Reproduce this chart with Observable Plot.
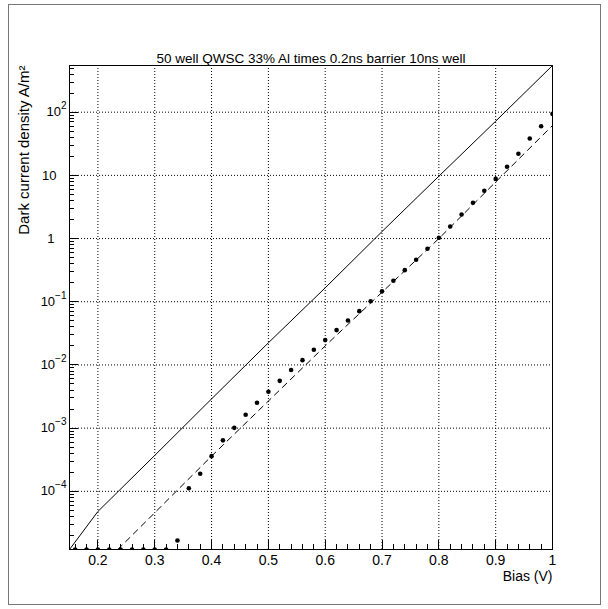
<!DOCTYPE html>
<html><head><meta charset="utf-8">
<script src="https://cdn.jsdelivr.net/npm/d3@7"></script>
<script src="https://cdn.jsdelivr.net/npm/@observablehq/plot@0.6"></script>
<style>
body{margin:0;background:#fff;}
#chart{position:absolute;left:0;top:0;}
</style></head><body>
<div id="chart"></div>
<script>
// Measured dark current (dots)
const biasDots = [0.16,0.18,0.20,0.22,0.24,0.26,0.28,0.30,0.32,0.34,0.36,0.38,0.40,0.42,0.44,0.46,0.48,0.50,0.52,0.54,0.56,0.58,0.60,0.62,0.64,0.66,0.68,0.70,0.72,0.74,0.76,0.78,0.80,0.82,0.84,0.86,0.88,0.90,0.92,0.94,0.96,0.98,1.00];
const jDots = [1.2e-5,1.2e-5,1.2e-5,1.2e-5,1.2e-5,1.2e-5,1.2e-5,1.2e-5,1.2e-5,1.67e-5,1.12e-4,1.9e-4,3.6e-4,6.4e-4,1.01e-3,1.63e-3,2.52e-3,3.77e-3,5.6e-3,8.3e-3,0.0119,0.0174,0.0247,0.0356,0.0506,0.071,0.102,0.147,0.215,0.316,0.461,0.69,1.03,1.55,2.40,3.68,5.7,8.8,13.7,22,38.4,60,94];
// Solid curve
const solidV = [0.15,0.2,0.3,0.4,0.5,0.6,0.7,0.8,0.9,1.0];
const solidJ = [1.2e-5,4.8e-5,3.7e-4,2.9e-3,0.0224,0.166,1.29,9.7,72,548];
// Dashed curve
const dashV = [0.235,0.4,0.6,0.8,1.0];
const dashJ = [1.2e-5,3.6e-4,0.02,1.0,61.6];
// Axes
const xDomain = [0.15,1.0];
const yDomain = [1.2e-5,548];
const xMajor = [0.2,0.3,0.4,0.5,0.6,0.7,0.8,0.9,1.0];
const xMinor = [0.16,0.18,0.22,0.24,0.26,0.28,0.32,0.34,0.36,0.38,0.42,0.44,0.46,0.48,0.52,0.54,0.56,0.58,0.62,0.64,0.66,0.68,0.72,0.74,0.76,0.78,0.82,0.84,0.86,0.88,0.92,0.94,0.96,0.98];
const yMajor = [1e-4,1e-3,1e-2,1e-1,1,10,100];
const yTickLabels = ["10^−4","10^−3","10^−2","10^−1","1","10","10^2"];
const titleText = "50 well QWSC 33% Al times 0.2ns barrier 10ns well";
const xTitle = "Bias (V)";
const yTitle = "Dark current density A/m²";

const yMinor = [];
for (const d of [1e-5,1e-4,1e-3,1e-2,1e-1,1,10,100]) for (let k=2;k<=9;k++){const v=k*d; if(v>=yDomain[0]&&v<=yDomain[1]) yMinor.push(v);}

const font = "'Liberation Sans', Arial, Helvetica, sans-serif";
const chart = Plot.plot({
  width: 608, height: 609,
  marginLeft: 69, marginRight: 56, marginTop: 65, marginBottom: 60,
  style: {fontFamily: font, color: "#000", background: "#fff"},
  x: {domain: xDomain},
  y: {type: "log", domain: yDomain},
  marks: [
    Plot.gridX(xMajor, {stroke: "#000", strokeOpacity: 1, strokeDasharray: "1,2"}),
    Plot.gridY(yMajor, {stroke: "#000", strokeOpacity: 1, strokeDasharray: "1,2"}),
    Plot.line(solidJ, {x: solidV, y: solidJ, stroke: "#000", strokeWidth: 1, clip: true}),
    Plot.line(dashJ, {x: dashV, y: dashJ, stroke: "#000", strokeWidth: 1, strokeDasharray: "6,5", clip: true}),
    Plot.dot(jDots, {x: biasDots, y: jDots, r: 2.3, fill: "#000", stroke: null, clip: true}),
    Plot.frame({stroke: "#000", strokeWidth: 1}),
    Plot.axisX(xMajor, {anchor: "bottom", tickSize: 0, tickPadding: 6, fontSize: 14, label: null,
      tickFormat: d => d === 1 ? "1" : d.toFixed(1)}),
    Plot.axisY(yMajor, {anchor: "left", tickSize: 0, tickPadding: 3, fontSize: 13, label: null,
      tickFormat: d => yTickLabels[yMajor.indexOf(d)]}),
    Plot.text([titleText], {frameAnchor: "top", lineAnchor: "middle", dy: -7, fontSize: 13.5, text: d => d}),
    Plot.text([xTitle], {frameAnchor: "bottom-right", lineAnchor: "middle", textAnchor: "end", dy: 27, fontSize: 14, text: d => d}),
    Plot.text([yTitle], {frameAnchor: "top-left", lineAnchor: "middle", rotate: -90, textAnchor: "end", dx: -45, fontSize: 15, text: d => d})
  ]
});
document.getElementById("chart").appendChild(chart);

const svg = d3.select(chart);
// superscript exponents on y tick labels
svg.selectAll("text").each(function(){
  const t = this.textContent;
  if (t.startsWith("10^")) {
    const exp = t.slice(3);
    this.textContent = "10";
    const ts = document.createElementNS("http://www.w3.org/2000/svg","tspan");
    ts.setAttribute("dy","-7");
    ts.setAttribute("font-size","10");
    ts.textContent = exp;
    this.appendChild(ts);
  }
});
svg.selectAll("text").filter(function(){return this.parentNode && this.parentNode.getAttribute("aria-label")==="y-axis tick label";})
  .each(function(){
    const t = this.textContent;
    if (t === "10") this.setAttribute("dx","-10");
    if (t === "1") this.setAttribute("dx","-12");
  });

// tick marks drawn inward using Plot's own scales
const sx = chart.scale("x"), sy = chart.scale("y");
const x0 = sx.apply(xDomain[0]), y0 = sy.apply(yDomain[0]);
const tg = svg.append("g").attr("stroke","#000").attr("stroke-width",1);
for (const v of xMajor) { const px = Math.round(sx.apply(v))+0.5; tg.append("line").attr("x1",px).attr("x2",px).attr("y1",y0).attr("y2",y0-9); }
for (const v of xMinor) { const px = Math.round(sx.apply(v))+0.5; tg.append("line").attr("x1",px).attr("x2",px).attr("y1",y0).attr("y2",y0-5); }
for (const v of yMajor) { const py = Math.round(sy.apply(v))+0.5; tg.append("line").attr("x1",x0).attr("x2",x0+9).attr("y1",py).attr("y2",py); }
for (const v of yMinor) { const py = Math.round(sy.apply(v))+0.5; tg.append("line").attr("x1",x0).attr("x2",x0+5).attr("y1",py).attr("y2",py); }

// outer canvas border
svg.append("rect").attr("x",8.5).attr("y",4.5).attr("width",592).attr("height",600)
  .attr("fill","none").attr("stroke","#777").attr("stroke-width",1);
</script>
</body></html>
